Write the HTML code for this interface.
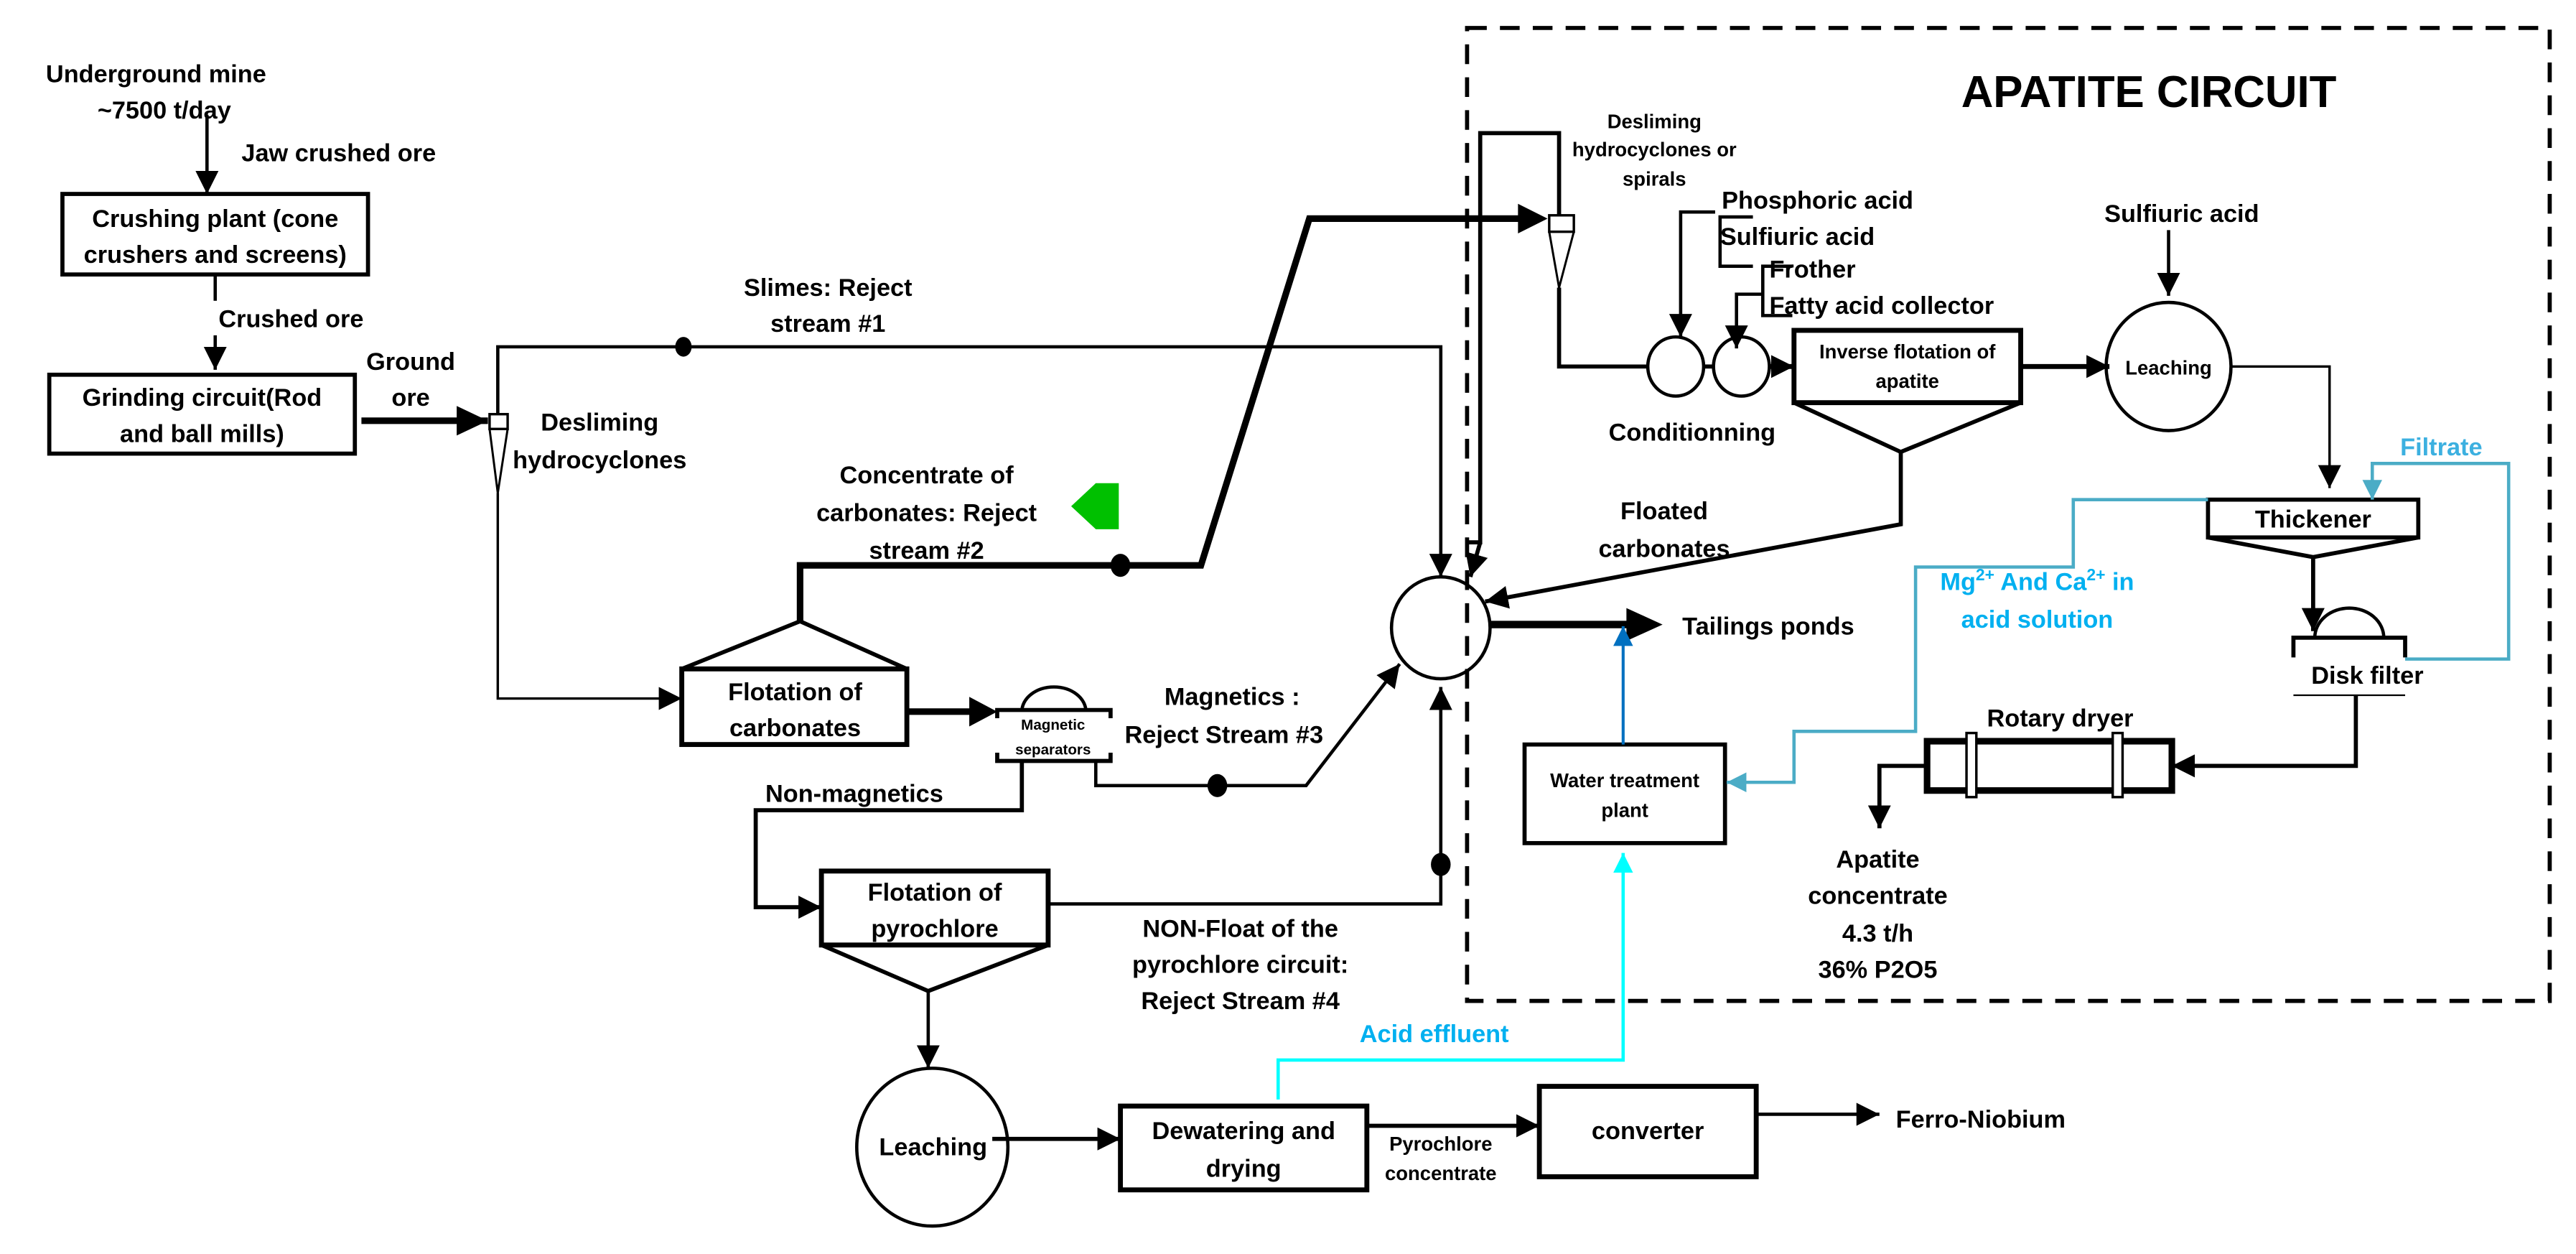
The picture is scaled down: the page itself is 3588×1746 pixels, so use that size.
<!DOCTYPE html>
<html><head><meta charset="utf-8"><style>
html,body{margin:0;padding:0;background:#fff;}
svg{display:block}
text{font-family:"Liberation Sans Narrow","Liberation Sans",sans-serif;font-weight:bold;fill:#000;}
</style></head><body>
<svg width="3588" height="1746" viewBox="0 0 1568 763" xmlns="http://www.w3.org/2000/svg">
<defs>
<marker id="A" viewBox="0 0 10 10" refX="10" refY="5" markerWidth="14" markerHeight="14" markerUnits="userSpaceOnUse" orient="auto"><path d="M0,0L10,5L0,10z" fill="#000"/></marker>
<marker id="T" viewBox="0 0 10 10" refX="10" refY="5" markerWidth="20" markerHeight="18" markerUnits="userSpaceOnUse" orient="auto" preserveAspectRatio="none"><path d="M0,0L10,5L0,10z" fill="#000"/></marker>
<marker id="b" viewBox="0 0 10 10" refX="10" refY="5" markerWidth="12" markerHeight="12" markerUnits="userSpaceOnUse" orient="auto"><path d="M0,0L10,5L0,10z" fill="#4bacc6"/></marker>
<marker id="c" viewBox="0 0 10 10" refX="10" refY="5" markerWidth="12" markerHeight="12" markerUnits="userSpaceOnUse" orient="auto"><path d="M0,0L10,5L0,10z" fill="#00ffff"/></marker>
<marker id="d" viewBox="0 0 10 10" refX="10" refY="5" markerWidth="12" markerHeight="12" markerUnits="userSpaceOnUse" orient="auto"><path d="M0,0L10,5L0,10z" fill="#0070c0"/></marker>
</defs>
<g fill="none" stroke="#000" stroke-width="2">
<rect x="893" y="17" width="659" height="592" stroke-width="2.5" stroke-dasharray="12,8"/>
<line x1="126" y1="70" x2="126" y2="118" marker-end="url(#A)"/>
<rect x="38" y="118" width="186" height="49" stroke-width="2.5"/>
<line x1="131" y1="167" x2="131" y2="183"/>
<line x1="131" y1="204" x2="131" y2="225" marker-end="url(#A)"/>
<rect x="30" y="228" width="186" height="48" stroke-width="2.5"/>
<line x1="220" y1="256" x2="297" y2="256" stroke-width="4"/>
<path d="M278,247 L297,256 L278,265z" fill="#000" stroke="none"/>
<rect x="298" y="252" width="11" height="9" stroke-width="1.5"/>
<path d="M298,261 L303,300 L309,261" stroke-width="1.3"/>
<path d="M303,252 V211 H877 V351" stroke-width="2" marker-end="url(#A)"/>
<path d="M303,300 V425 H415" stroke-width="1.5" marker-end="url(#A)"/>
<rect x="415" y="407" width="137" height="46" stroke-width="3"/>
<path d="M415,407 L487,378 L552,407" stroke-width="2.5"/>
<path d="M487,378 V344 H731 L797,133 H930" stroke-width="4"/>
<path d="M924,124 L942,133 L924,142z" fill="#000" stroke="none"/>
<line x1="552" y1="433" x2="592" y2="433" stroke-width="4"/>
<path d="M590,424 L607,433 L590,442z" fill="#000" stroke="none"/>
<path d="M622,433 A19.5,15 0 0 1 661,433" stroke-width="2"/>
<path d="M607,437 V432 H676 V437" stroke-width="2.5"/>
<path d="M607,458 V463 H676 V458" stroke-width="2.5"/>
<path d="M667,463 V478 H795 L852,404" stroke-width="2" marker-end="url(#A)"/>
<path d="M622,463 V493 H460 V552 H500" stroke-width="2.5" marker-end="url(#A)"/>
<rect x="500" y="530" width="138" height="45" stroke-width="3"/>
<path d="M500,575 L565,603 L638,575" stroke-width="2.5"/>
<path d="M638,550 H877 V418" stroke-width="2" marker-end="url(#A)"/>
<line x1="565" y1="603" x2="565" y2="650" stroke-width="2" marker-end="url(#A)"/>
<ellipse cx="567.5" cy="698" rx="46" ry="48" stroke-width="2"/>
<line x1="604" y1="693" x2="682" y2="693" stroke-width="2.5" marker-end="url(#A)"/>
<rect x="682" y="673" width="150" height="51" stroke-width="3"/>
<line x1="832" y1="685" x2="937" y2="685" stroke-width="2.5" marker-end="url(#A)"/>
<rect x="937" y="661" width="132" height="55" stroke-width="3"/>
<line x1="1069" y1="678" x2="1144" y2="678" stroke-width="2" marker-end="url(#A)"/>
<ellipse cx="877" cy="382" rx="30" ry="31" stroke-width="2"/>
<line x1="907" y1="380" x2="995" y2="380" stroke-width="4.5"/>
<path d="M990,370 L1012,380 L990,390z" fill="#000" stroke="none"/>
<path d="M894,330 L901,330 V81 H949 V131" stroke-width="2.5"/>
<line x1="901" y1="330" x2="895" y2="351" stroke-width="2.5" marker-end="url(#A)"/>
<rect x="943" y="131" width="15" height="10" stroke-width="1.5"/>
<path d="M943,141 L949,175 L958,141" stroke-width="1.3"/>
<path d="M949,175 V223 H1003" stroke-width="2.5"/>
<ellipse cx="1020" cy="223" rx="17" ry="18" stroke-width="2"/>
<ellipse cx="1060" cy="223" rx="17" ry="18" stroke-width="2"/>
<line x1="1037" y1="223" x2="1043" y2="223" stroke-width="2.5"/>
<line x1="1077" y1="223" x2="1092" y2="223" stroke-width="3" marker-end="url(#A)"/>
<path d="M1044,129 H1023 V205" stroke-width="2" marker-end="url(#A)"/>
<path d="M1067,132 H1047 V162 H1067" stroke-width="2"/>
<path d="M1073,179 H1057 V212" stroke-width="2" marker-end="url(#A)"/>
<path d="M1091,162 H1073 V192 H1091" stroke-width="2"/>
<rect x="1092" y="201" width="138" height="44" stroke-width="3"/>
<path d="M1092,245 L1157,275 L1230,245" stroke-width="2.5"/>
<path d="M1157,275 V319 L904,366" stroke-width="2.5" marker-end="url(#A)"/>
<line x1="1230" y1="223" x2="1284" y2="223" stroke-width="3" marker-end="url(#A)"/>
<ellipse cx="1320" cy="223" rx="38" ry="39" stroke-width="2"/>
<line x1="1320" y1="140" x2="1320" y2="180" stroke-width="2" marker-end="url(#A)"/>
<path d="M1358,223 H1418 V297" stroke-width="1.5" marker-end="url(#A)"/>
<rect x="1344" y="304" width="128" height="23" stroke-width="2.5"/>
<path d="M1344,327 L1408,339 L1472,327" stroke-width="2.5"/>
<line x1="1408" y1="339" x2="1408" y2="384" stroke-width="2.5" marker-end="url(#A)"/>
<path d="M1409,388 A21,18 0 0 1 1451,388" stroke-width="2"/>
<path d="M1396,400 V388 H1464 V400" stroke-width="2.5"/>
<line x1="1396" y1="423" x2="1464" y2="423" stroke-width="1"/>
<path d="M1434,423 V466 H1322" stroke-width="2.5" marker-end="url(#A)"/>
<rect x="1173" y="451" width="149" height="30" stroke-width="4"/>
<rect x="1197" y="446" width="6" height="39" fill="#fff" stroke-width="1.5"/>
<rect x="1286" y="446" width="6" height="39" fill="#fff" stroke-width="1.5"/>
<path d="M1173,466 H1144 V504" stroke-width="2.5" marker-end="url(#A)"/>
<rect x="928" y="453" width="122" height="60" stroke-width="2.5"/>
<line x1="988" y1="453" x2="988" y2="381" stroke="#0070c0" stroke-width="1.8" marker-end="url(#d)"/>
<path d="M778,669 V645 H988 V519" stroke="#00ffff" stroke-width="2" marker-end="url(#c)"/>
<path d="M1344,304 H1262 V345 H1166 V445 H1092 V476 H1051" stroke="#4bacc6" stroke-width="2" marker-end="url(#b)"/>
<path d="M1464,401 H1527 V282 H1444 V304" stroke="#4bacc6" stroke-width="2" marker-end="url(#b)"/>
</g>
<g fill="#000">
<ellipse cx="416" cy="211" rx="5" ry="6"/>
<ellipse cx="682" cy="344" rx="6" ry="7"/>
<ellipse cx="741" cy="478" rx="6" ry="7"/>
<ellipse cx="877" cy="526" rx="6" ry="7"/>
</g>
<path d="M652,308 L667,294 H681 V322 H667 Z" fill="#00c000"/>
<g font-size="15">
<text x="95" y="50" text-anchor="middle">Underground mine</text>
<text x="100" y="72" text-anchor="middle">~7500 t/day</text>
<text x="147" y="98">Jaw crushed ore</text>
<text x="131" y="138" text-anchor="middle">Crushing plant (cone</text>
<text x="131" y="160" text-anchor="middle">crushers and screens)</text>
<text x="133" y="199">Crushed ore</text>
<text x="123" y="247" text-anchor="middle">Grinding circuit(Rod</text>
<text x="123" y="269" text-anchor="middle">and ball mills)</text>
<text x="250" y="225" text-anchor="middle">Ground</text>
<text x="250" y="247" text-anchor="middle">ore</text>
<text x="365" y="262" text-anchor="middle">Desliming</text>
<text x="365" y="285" text-anchor="middle">hydrocyclones</text>
<text x="504" y="180" text-anchor="middle">Slimes: Reject</text>
<text x="504" y="202" text-anchor="middle">stream #1</text>
<text x="564" y="294" text-anchor="middle">Concentrate of</text>
<text x="564" y="317" text-anchor="middle">carbonates: Reject</text>
<text x="564" y="340" text-anchor="middle">stream #2</text>
<text x="484" y="426" text-anchor="middle">Flotation of</text>
<text x="484" y="448" text-anchor="middle">carbonates</text>
<text x="750" y="429" text-anchor="middle">Magnetics :</text>
<text x="745" y="452" text-anchor="middle">Reject Stream #3</text>
<text x="520" y="488" text-anchor="middle">Non-magnetics</text>
<text x="569" y="548" text-anchor="middle">Flotation of</text>
<text x="569" y="570" text-anchor="middle">pyrochlore</text>
<text x="755" y="570" text-anchor="middle">NON-Float  of the</text>
<text x="755" y="592" text-anchor="middle">pyrochlore circuit:</text>
<text x="755" y="614" text-anchor="middle">Reject Stream #4</text>
<text x="568" y="703" text-anchor="middle">Leaching</text>
<text x="757" y="693" text-anchor="middle">Dewatering and</text>
<text x="757" y="716" text-anchor="middle">drying</text>
<text x="1003" y="693" text-anchor="middle">converter</text>
<text x="1154" y="686">Ferro-Niobium</text>
<text x="1024" y="386">Tailings ponds</text>
<text x="1013" y="316" text-anchor="middle">Floated</text>
<text x="1013" y="339" text-anchor="middle">carbonates</text>
<text x="1030" y="268" text-anchor="middle">Conditionning</text>
<text x="1048" y="127">Phosphoric acid</text>
<text x="1047" y="149">Sulfiuric acid</text>
<text x="1077" y="169">Frother</text>
<text x="1077" y="191">Fatty acid collector</text>
<text x="1328" y="135" text-anchor="middle">Sulfiuric acid</text>
<text x="1408" y="321" text-anchor="middle">Thickener</text>
<text x="1441" y="416" text-anchor="middle">Disk filter</text>
<text x="1254" y="442" text-anchor="middle">Rotary dryer</text>
<text x="1143" y="528" text-anchor="middle">Apatite</text>
<text x="1143" y="550" text-anchor="middle">concentrate</text>
<text x="1143" y="573" text-anchor="middle">4.3 t/h</text>
<text x="1143" y="595" text-anchor="middle">36% P2O5</text>
<text x="873" y="634" text-anchor="middle" style="fill:#00b0f0">Acid effluent</text>
<text x="1486" y="277" text-anchor="middle" style="fill:#3cb0e0">Filtrate</text>
<text x="1240" y="359" text-anchor="middle" style="fill:#00b0f0">Mg<tspan font-size="10" dy="-6">2+</tspan><tspan dy="6"> And Ca</tspan><tspan font-size="10" dy="-6">2+</tspan><tspan dy="6"> in</tspan></text>
<text x="1240" y="382" text-anchor="middle" style="fill:#00b0f0">acid solution</text>
</g>
<g font-size="12">
<text x="1007" y="78" text-anchor="middle">Desliming</text>
<text x="1007" y="95" text-anchor="middle">hydrocyclones or</text>
<text x="1007" y="113" text-anchor="middle">spirals</text>
<text x="1161" y="218" text-anchor="middle">Inverse flotation of</text>
<text x="1161" y="236" text-anchor="middle">apatite</text>
<text x="1320" y="228" text-anchor="middle">Leaching</text>
<text x="989" y="479" text-anchor="middle">Water treatment</text>
<text x="989" y="497" text-anchor="middle">plant</text>
<text x="877" y="700" text-anchor="middle">Pyrochlore</text>
<text x="877" y="718" text-anchor="middle">concentrate</text>
</g>
<g font-size="9">
<text x="641" y="444" text-anchor="middle">Magnetic</text>
<text x="641" y="459" text-anchor="middle">separators</text>
</g>
<text x="1308" y="65" text-anchor="middle" font-size="27">APATITE CIRCUIT</text>
</svg>
</body></html>
